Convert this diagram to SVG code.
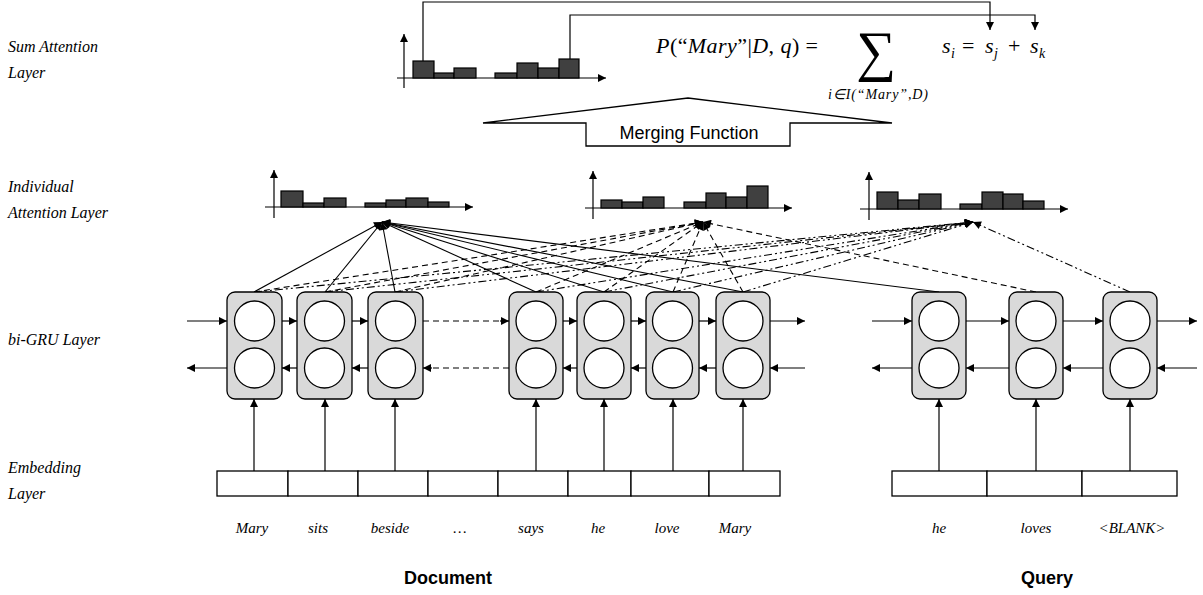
<svg xmlns="http://www.w3.org/2000/svg" width="1203" height="595" viewBox="0 0 1203 595">
<defs>
<marker id="ah" viewBox="0 0 10 10" refX="10" refY="5" markerWidth="9" markerHeight="8" markerUnits="userSpaceOnUse" orient="auto">
<path d="M0,0 L10,5 L0,10 z" fill="#000"/>
</marker>
<style>
.lbl{font-family:"Liberation Serif",serif;font-style:italic;font-size:16px;fill:#000}
.word{font-family:"Liberation Serif",serif;font-style:italic;font-size:15px;fill:#000;text-anchor:middle}
.big{font-family:"Liberation Sans",Arial,sans-serif;font-weight:bold;font-size:18px;text-anchor:middle}
.math{font-family:"Liberation Serif",serif;font-size:22px;fill:#000}
.sig{font-family:"Liberation Serif",serif;font-size:56px;fill:#000;text-anchor:middle}
.sub{font-family:"Liberation Serif",serif;font-style:italic;font-size:14px;fill:#000}
.ssub{font-size:14px}
.it{font-style:italic}
.ax{stroke:#000;stroke-width:1.2;fill:none}
.bar{fill:#404040;stroke:#000;stroke-width:1.2}
.cell{fill:#d9d9d9;stroke:#000;stroke-width:1.3}
.circ{fill:#fff;stroke:#000;stroke-width:1.3}
.emb{fill:#fff;stroke:#000;stroke-width:1.3}
.a{stroke:#000;stroke-width:1.2;fill:none;marker-end:url(#ah)}
.sol{stroke:#000;stroke-width:1.1;fill:none;marker-end:url(#ah)}
.dsh{stroke:#000;stroke-width:1.1;fill:none;stroke-dasharray:6,4;marker-end:url(#ah)}
.ddt{stroke:#000;stroke-width:1.1;fill:none;stroke-dasharray:8,3,2,3,2,3;marker-end:url(#ah)}
.dl{stroke:#000;stroke-width:1.2;fill:none;stroke-dasharray:6,4}
</style>
</defs>
<rect width="1203" height="595" fill="#fff"/>

<g id="labels">
<text class="lbl" x="8" y="52">Sum Attention</text>
<text class="lbl" x="8" y="78">Layer</text>
<text class="lbl" x="8" y="192">Individual</text>
<text class="lbl" x="8" y="218">Attention Layer</text>
<text class="lbl" x="8" y="345">bi-GRU Layer</text>
<text class="lbl" x="8" y="473">Embedding</text>
<text class="lbl" x="8" y="499">Layer</text>
</g>

<g id="sum-hist">
<line class="ax" x1="404" y1="88" x2="404" y2="34" marker-end="url(#ah)"/>
<line class="ax" x1="397" y1="78" x2="606" y2="78" marker-end="url(#ah)"/>
<rect class="bar" x="413" y="61" width="21" height="17"/>
<rect class="bar" x="434" y="73" width="20" height="5"/>
<rect class="bar" x="454" y="68" width="22" height="10"/>
<rect class="bar" x="495" y="73" width="22" height="5"/>
<rect class="bar" x="517" y="63" width="21" height="15"/>
<rect class="bar" x="538" y="68" width="21" height="10"/>
<rect class="bar" x="559" y="59" width="20" height="19"/>
</g>

<g id="formula">
<text class="math" x="656" y="53" textLength="162" lengthAdjust="spacing"><tspan class="it">P</tspan>(“<tspan class="it">Mary</tspan>”|<tspan class="it">D</tspan>, <tspan class="it">q</tspan>) =</text>
<text class="sig" x="876" y="70">∑</text>
<text class="sub" x="828" y="99" textLength="100" lengthAdjust="spacing">i∈I(“Mary”,D)</text>
<text class="math"><tspan class="it" x="942" y="53">s</tspan><tspan class="it ssub" x="951" y="58">i</tspan><tspan x="962" y="53">=</tspan><tspan class="it" x="985" y="53">s</tspan><tspan class="it ssub" x="994" y="58">j</tspan><tspan x="1008" y="53">+</tspan><tspan class="it" x="1030" y="53">s</tspan><tspan class="it ssub" x="1039" y="58">k</tspan></text>
</g>

<g id="sum-links">
<polyline class="a" points="423,61 423,2 990,2 990,30"/>
<polyline class="a" points="570,59 570,15 1035,15 1035,30"/>
</g>

<g id="merging">
<polygon points="483,123 688,98 892,123 790,123 790,146 586,146 586,123" fill="#fff" stroke="#000" stroke-width="1.3"/>
<text x="689" y="139" font-family="Liberation Sans,Arial,sans-serif" font-size="18" text-anchor="middle">Merging Function</text>
</g>

<g id="hist1">
<line class="ax" x1="274" y1="218" x2="274" y2="170" marker-end="url(#ah)"/>
<line class="ax" x1="265" y1="207" x2="473" y2="207" marker-end="url(#ah)"/>
<rect class="bar" x="281" y="191" width="22" height="16"/>
<rect class="bar" x="303" y="203" width="21" height="4"/>
<rect class="bar" x="324" y="198" width="22" height="9"/>
<rect class="bar" x="365" y="203" width="21" height="4"/>
<rect class="bar" x="386" y="200" width="20" height="7"/>
<rect class="bar" x="406" y="198" width="22" height="9"/>
<rect class="bar" x="428" y="202" width="21" height="5"/>
</g>

<g id="hist2">
<line class="ax" x1="593" y1="219" x2="593" y2="171" marker-end="url(#ah)"/>
<line class="ax" x1="585" y1="208" x2="792" y2="208" marker-end="url(#ah)"/>
<rect class="bar" x="601" y="200" width="21" height="8"/>
<rect class="bar" x="622" y="202" width="21" height="6"/>
<rect class="bar" x="643" y="197" width="21" height="11"/>
<rect class="bar" x="684" y="202" width="22" height="6"/>
<rect class="bar" x="706" y="193" width="20" height="15"/>
<rect class="bar" x="726" y="197" width="21" height="11"/>
<rect class="bar" x="747" y="186" width="21" height="22"/>
</g>

<g id="hist3">
<line class="ax" x1="869" y1="220" x2="869" y2="172" marker-end="url(#ah)"/>
<line class="ax" x1="860" y1="209" x2="1068" y2="209" marker-end="url(#ah)"/>
<rect class="bar" x="877" y="192" width="21" height="17"/>
<rect class="bar" x="898" y="200" width="21" height="9"/>
<rect class="bar" x="919" y="194" width="22" height="15"/>
<rect class="bar" x="960" y="204" width="22" height="5"/>
<rect class="bar" x="982" y="192" width="21" height="17"/>
<rect class="bar" x="1003" y="194" width="20" height="15"/>
<rect class="bar" x="1023" y="201" width="21" height="8"/>
</g>

<g id="attention-links">
<line class="sol" x1="254" y1="292" x2="382" y2="222"/>
<line class="sol" x1="325" y1="292" x2="382" y2="222"/>
<line class="sol" x1="395" y1="292" x2="382" y2="222"/>
<line class="sol" x1="536" y1="292" x2="382" y2="222"/>
<line class="sol" x1="604" y1="292" x2="382" y2="222"/>
<line class="sol" x1="673" y1="292" x2="382" y2="222"/>
<line class="sol" x1="743" y1="292" x2="382" y2="222"/>
<line class="sol" x1="939" y1="292" x2="382" y2="222"/>
<line class="dsh" x1="254" y1="292" x2="703" y2="222"/>
<line class="dsh" x1="325" y1="292" x2="703" y2="222"/>
<line class="dsh" x1="395" y1="292" x2="703" y2="222"/>
<line class="dsh" x1="536" y1="292" x2="703" y2="222"/>
<line class="dsh" x1="604" y1="292" x2="703" y2="222"/>
<line class="dsh" x1="673" y1="292" x2="703" y2="222"/>
<line class="dsh" x1="743" y1="292" x2="703" y2="222"/>
<line class="dsh" x1="1036" y1="292" x2="703" y2="222"/>
<line class="ddt" x1="254" y1="292" x2="973" y2="222"/>
<line class="ddt" x1="325" y1="292" x2="973" y2="222"/>
<line class="ddt" x1="395" y1="292" x2="973" y2="222"/>
<line class="ddt" x1="536" y1="292" x2="973" y2="222"/>
<line class="ddt" x1="604" y1="292" x2="973" y2="222"/>
<line class="ddt" x1="673" y1="292" x2="973" y2="222"/>
<line class="ddt" x1="743" y1="292" x2="973" y2="222"/>
<line class="ddt" x1="1130" y1="292" x2="973" y2="222"/>
</g>

<g id="gru-links">
<line class="a" x1="187" y1="321" x2="227" y2="321"/>
<line class="a" x1="282" y1="321" x2="297" y2="321"/>
<line class="a" x1="352" y1="321" x2="368" y2="321"/>
<line class="dl" x1="423" y1="321" x2="500" y2="321"/>
<line class="a" x1="500" y1="321" x2="509" y2="321"/>
<line class="a" x1="563" y1="321" x2="577" y2="321"/>
<line class="a" x1="631" y1="321" x2="646" y2="321"/>
<line class="a" x1="699" y1="321" x2="716" y2="321"/>
<line class="a" x1="770" y1="321" x2="805" y2="321"/>
<line class="a" x1="805" y1="368" x2="770" y2="368"/>
<line class="a" x1="716" y1="368" x2="699" y2="368"/>
<line class="a" x1="646" y1="368" x2="631" y2="368"/>
<line class="a" x1="577" y1="368" x2="563" y2="368"/>
<line class="dl" x1="509" y1="368" x2="432" y2="368"/>
<line class="a" x1="432" y1="368" x2="423" y2="368"/>
<line class="a" x1="368" y1="368" x2="352" y2="368"/>
<line class="a" x1="297" y1="368" x2="282" y2="368"/>
<line class="a" x1="227" y1="368" x2="187" y2="368"/>
<line class="a" x1="872" y1="321" x2="912" y2="321"/>
<line class="a" x1="966" y1="321" x2="1009" y2="321"/>
<line class="a" x1="1063" y1="321" x2="1103" y2="321"/>
<line class="a" x1="1157" y1="321" x2="1197" y2="321"/>
<line class="a" x1="1197" y1="368" x2="1157" y2="368"/>
<line class="a" x1="1103" y1="368" x2="1063" y2="368"/>
<line class="a" x1="1009" y1="368" x2="966" y2="368"/>
<line class="a" x1="912" y1="368" x2="872" y2="368"/>
<line class="a" x1="254" y1="471" x2="254" y2="399"/>
<line class="a" x1="325" y1="471" x2="325" y2="399"/>
<line class="a" x1="395" y1="471" x2="395" y2="399"/>
<line class="a" x1="536" y1="471" x2="536" y2="399"/>
<line class="a" x1="604" y1="471" x2="604" y2="399"/>
<line class="a" x1="673" y1="471" x2="673" y2="399"/>
<line class="a" x1="743" y1="471" x2="743" y2="399"/>
<line class="a" x1="939" y1="471" x2="939" y2="399"/>
<line class="a" x1="1036" y1="471" x2="1036" y2="399"/>
<line class="a" x1="1130" y1="471" x2="1130" y2="399"/>
</g>

<g id="cell-d1"><rect class="cell" x="227" y="292" width="55" height="107" rx="8"/><circle class="circ" cx="254.5" cy="321" r="20"/><circle class="circ" cx="254.5" cy="368" r="20"/></g>
<g id="cell-d2"><rect class="cell" x="297" y="292" width="55" height="107" rx="8"/><circle class="circ" cx="324.5" cy="321" r="20"/><circle class="circ" cx="324.5" cy="368" r="20"/></g>
<g id="cell-d3"><rect class="cell" x="368" y="292" width="55" height="107" rx="8"/><circle class="circ" cx="395.5" cy="321" r="20"/><circle class="circ" cx="395.5" cy="368" r="20"/></g>
<g id="cell-d4"><rect class="cell" x="509" y="292" width="54" height="107" rx="8"/><circle class="circ" cx="536" cy="321" r="20"/><circle class="circ" cx="536" cy="368" r="20"/></g>
<g id="cell-d5"><rect class="cell" x="577" y="292" width="54" height="107" rx="8"/><circle class="circ" cx="604" cy="321" r="20"/><circle class="circ" cx="604" cy="368" r="20"/></g>
<g id="cell-d6"><rect class="cell" x="646" y="292" width="53" height="107" rx="8"/><circle class="circ" cx="672.5" cy="321" r="20"/><circle class="circ" cx="672.5" cy="368" r="20"/></g>
<g id="cell-d7"><rect class="cell" x="716" y="292" width="54" height="107" rx="8"/><circle class="circ" cx="743" cy="321" r="20"/><circle class="circ" cx="743" cy="368" r="20"/></g>
<g id="cell-q1"><rect class="cell" x="912" y="292" width="54" height="107" rx="8"/><circle class="circ" cx="939" cy="321" r="20"/><circle class="circ" cx="939" cy="368" r="20"/></g>
<g id="cell-q2"><rect class="cell" x="1009" y="292" width="54" height="107" rx="8"/><circle class="circ" cx="1036" cy="321" r="20"/><circle class="circ" cx="1036" cy="368" r="20"/></g>
<g id="cell-q3"><rect class="cell" x="1103" y="292" width="54" height="107" rx="8"/><circle class="circ" cx="1130" cy="321" r="20"/><circle class="circ" cx="1130" cy="368" r="20"/></g>

<g id="doc-embedding">
<rect class="emb" x="217" y="471" width="71" height="25"/>
<rect class="emb" x="288" y="471" width="70" height="25"/>
<rect class="emb" x="358" y="471" width="70" height="25"/>
<rect class="emb" x="428" y="471" width="70" height="25"/>
<rect class="emb" x="498" y="471" width="70" height="25"/>
<rect class="emb" x="568" y="471" width="63" height="25"/>
<rect class="emb" x="631" y="471" width="78" height="25"/>
<rect class="emb" x="709" y="471" width="71" height="25"/>
</g>
<g id="query-embedding">
<rect class="emb" x="892" y="471" width="95" height="25"/>
<rect class="emb" x="987" y="471" width="95" height="25"/>
<rect class="emb" x="1082" y="471" width="95" height="25"/>
</g>

<g id="words">
<text class="word" x="252" y="533">Mary</text>
<text class="word" x="318" y="533">sits</text>
<text class="word" x="390" y="533">beside</text>
<text class="word" x="460" y="533">…</text>
<text class="word" x="531" y="533">says</text>
<text class="word" x="598" y="533">he</text>
<text class="word" x="667" y="533">love</text>
<text class="word" x="735" y="533">Mary</text>
<text class="word" x="939" y="533">he</text>
<text class="word" x="1036" y="533">loves</text>
<text class="word" x="1132" y="533">&lt;BLANK&gt;</text>
</g>

<g id="titles">
<text class="big" x="448" y="584">Document</text>
<text class="big" x="1047" y="584">Query</text>
</g>
</svg>
